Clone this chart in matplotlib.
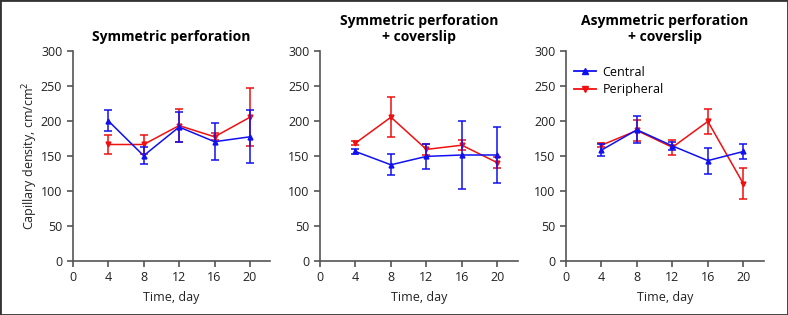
import matplotlib
matplotlib.use("Agg")
import matplotlib.pyplot as plt
from matplotlib.patches import Rectangle
from matplotlib.lines import Line2D

days = [4, 8, 12, 16, 20]
titles = ["Symmetric perforation",
          "Symmetric perforation\n+ coverslip",
          "Asymmetric perforation\n+ coverslip"]

central_mean = [[200, 150, 191, 170, 177],
                [156, 137, 149, 151, 151],
                [158, 187, 164, 143, 156]]
central_err = [[15, 12, 22, 26, 38],
               [3, 15, 17.5, 48, 40],
               [9, 19, 5.5, 18.5, 10]]
peripheral_mean = [[166, 166, 193, 177, 205],
                   [168, 205, 159, 165, 140],
                   [165, 186, 162, 199, 110]]
peripheral_err = [[13, 13, 24, 5, 41],
                  [3, 29, 8, 7, 8],
                  [3, 15.5, 11, 17.5, 22.5]]

yticks = [0, 50, 100, 150, 200, 250, 300]
xticks = [0, 4, 8, 12, 16, 20]

plt.rcParams['font.family'] = ['Open Sans', 'DejaVu Sans']

fig = plt.figure(figsize=(7.88, 3.15), dpi=100)
W, H = 788, 315
lefts = [72.7, 320, 566]
width = 197.7
bottom_px, top_px = 260.7, 50.7
axes = []
gray = '#555555'
blue = '#1010f0'
red = '#f01010'
for i in range(3):
    ax = fig.add_axes([lefts[i] / W, 1 - bottom_px / H, width / W, (bottom_px - top_px) / H])
    axes.append(ax)
    ax.errorbar(days, central_mean[i], yerr=central_err[i], color=blue, lw=1.1,
                marker='^', ms=3.5, capsize=3, elinewidth=1.1, capthick=1.1, zorder=3)
    ax.errorbar(days, peripheral_mean[i], yerr=peripheral_err[i], color=red, lw=1.1,
                marker='v', ms=3.5, capsize=3, elinewidth=1.1, capthick=1.1, zorder=2)
    ax.set_xlim(0, 22.3)
    ax.set_ylim(0, 300)
    ax.set_xticks(xticks)
    ax.set_yticks(yticks)
    for s in ['top', 'right']:
        ax.spines[s].set_visible(False)
    for s in ['left', 'bottom']:
        ax.spines[s].set_color(gray)
        ax.spines[s].set_linewidth(1.2)
    ax.tick_params(colors=gray, labelcolor='#222222', labelsize=9, length=4, width=1.2)
    ax.set_xlabel('Time, day', fontsize=9, color='#222222', labelpad=5)
    ax.set_title(titles[i], fontsize=10, fontweight='bold', pad=7, linespacing=1.2)

axes[0].set_ylabel('Capillary density, cm/cm$^2$', fontsize=9, color='#222222', labelpad=1)
handles = [Line2D([], [], color=blue, lw=1.3, marker='^', ms=4),
           Line2D([], [], color=red, lw=1.3, marker='v', ms=4)]
axes[2].legend(handles, ['Central', 'Peripheral'], loc='upper left', frameon=False,
               fontsize=9, handlelength=1.8, bbox_to_anchor=(0.0, 0.965),
               borderaxespad=0.2, labelspacing=0.35, handletextpad=0.5)

fig.patches.append(Rectangle((0, 0), 1, 1, transform=fig.transFigure, fill=False,
                             edgecolor='#333333', linewidth=2))
fig.savefig('out.png', dpi=100)
